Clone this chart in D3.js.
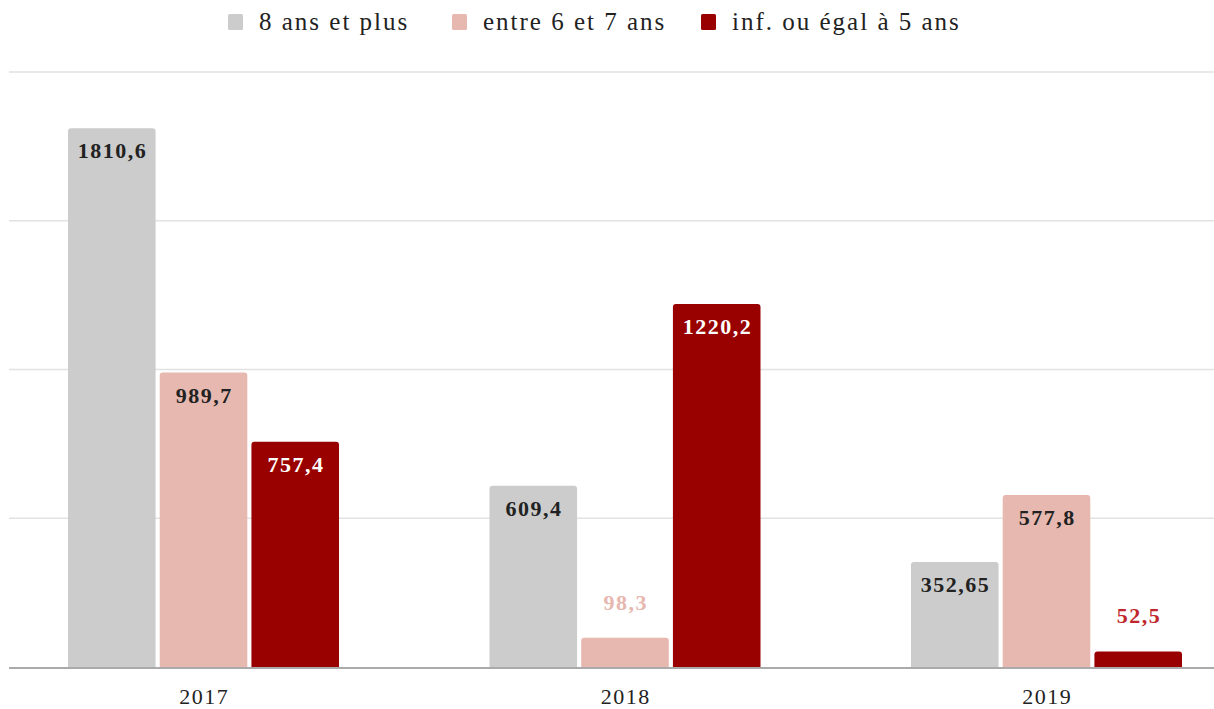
<!DOCTYPE html>
<html><head><meta charset="utf-8">
<script src="https://cdn.jsdelivr.net/npm/d3@7"></script>
<style>html,body{margin:0;padding:0;background:#fff;}svg{display:block;}</style>
</head><body><svg id="c" width="1214" height="709"></svg>
<script>
const categories = ["2017", "2018", "2019"];
const seriesNames = ["8 ans et plus", "entre 6 et 7 ans", "inf. ou égal à 5 ans"];
const s8plus = [1810.6, 609.4, 352.65];
const s6to7 = [989.7, 98.3, 577.8];
const s5less = [757.4, 1220.2, 52.5];
const valueLabels = [["1810,6", "609,4", "352,65"], ["989,7", "98,3", "577,8"], ["757,4", "1220,2", "52,5"]];
const yTicks = [0, 500, 1000, 1500, 2000];
const colors = ["#cccccc", "#e6b8b0", "#990000"];
const labelColorsInside = ["#222", "#222", "#fff"];
const labelColorsOutside = ["#999", "#e6b8b0", "#c0272d"];

const series = [s8plus, s6to7, s5less];
const svg = d3.select("#c");
const font = "'Liberation Serif', 'DejaVu Serif', serif";

const y = d3.scaleLinear().domain([0, 2000]).range([667, 72]);
const x0 = d3.scaleBand().domain(categories).range([68, 1182]).paddingInner(0.357).paddingOuter(0);
const x1 = d3.scaleBand().domain(d3.range(3)).range([0, x0.bandwidth()]).paddingInner(0.045);

// gridlines
svg.append("g").selectAll("line").data(yTicks.filter(d => d > 0)).join("line")
  .attr("x1", 9).attr("x2", 1214).attr("y1", d => y(d)).attr("y2", d => y(d))
  .attr("stroke", "#e2e2e2").attr("stroke-width", 1.5);

// bars
const r = 3;
function barPath(x, top, w, bottom) {
  const rr = Math.min(r, (bottom - top));
  return `M${x},${bottom}V${top + rr}Q${x},${top} ${x + rr},${top}H${x + w - rr}Q${x + w},${top} ${x + w},${top + rr}V${bottom}Z`;
}
const data = [];
categories.forEach((c, ci) => series.forEach((s, si) => data.push({c, ci, si, v: s[ci]})));
const g = svg.append("g");
g.selectAll("path").data(data).join("path")
  .attr("d", d => barPath(x0(d.c) + x1(d.si), y(d.v), x1.bandwidth(), y(0)))
  .attr("fill", d => colors[d.si]);

// value labels
g.selectAll("text").data(data).join("text")
  .attr("x", d => x0(d.c) + x1(d.si) + x1.bandwidth() / 2 + 0.75)
  .attr("y", d => (y(0) - y(d.v) > 60) ? y(d.v) + 30 : y(d.v) - 28)
  .attr("text-anchor", "middle")
  .style("font-family", font).style("font-size", "22px").style("font-weight", "bold")
  .style("letter-spacing", "1.5px")
  .attr("fill", d => (y(0) - y(d.v) > 60) ? labelColorsInside[d.si] : labelColorsOutside[d.si])
  .text(d => valueLabels[d.si][d.ci]);

// baseline
svg.append("line").attr("x1", 9).attr("x2", 1214).attr("y1", y(0) + 1).attr("y2", y(0) + 1)
  .attr("stroke", "#aaaaaa").attr("stroke-width", 2);

// x axis labels
const xAxis = d3.axisBottom(x0).tickSize(0).tickPadding(0);
const ax = svg.append("g").attr("transform", `translate(0,${y(0)})`).call(xAxis);
ax.select(".domain").remove();
ax.selectAll("text").style("font-family", font).style("font-size", "22px").style("letter-spacing", "1.5px")
  .attr("fill", "#222").attr("dy", 0).attr("y", 37).attr("dx", 0.75);

// legend
const legendX = [228, 452, 701];
const lg = svg.append("g");
seriesNames.forEach((n, i) => {
  lg.append("rect").attr("x", legendX[i]).attr("y", 14).attr("width", 15).attr("height", 16).attr("rx", 1.5).attr("fill", colors[i]);
  lg.append("text").attr("x", legendX[i] + 31).attr("y", 30)
    .style("font-family", font).style("font-size", "25px").style("letter-spacing", "2px")
    .attr("fill", "#222").text(n);
});
</script></body></html>
